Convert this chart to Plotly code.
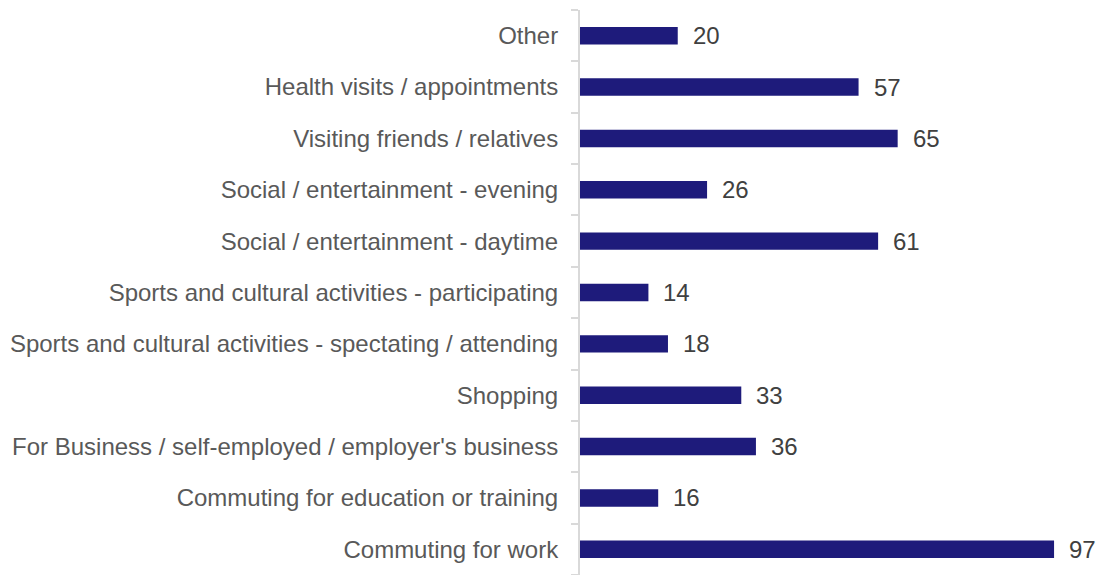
import plotly.graph_objects as go

# Trip purposes, listed bottom to top as drawn on the category axis
purposes = [
    "Commuting for work",
    "Commuting for education or training",
    "For Business / self-employed / employer's business",
    "Shopping",
    "Sports and cultural activities - spectating / attending",
    "Sports and cultural activities - participating",
    "Social / entertainment - daytime",
    "Social / entertainment - evening",
    "Visiting friends / relatives",
    "Health visits / appointments",
    "Other",
]
counts = [97, 16, 36, 33, 18, 14, 61, 26, 65, 57, 20]

BAR_COLOR = "#1e1b7b"
LABEL_COLOR = "#595959"
VALUE_COLOR = "#404040"
FONT = "Liberation Sans, Arial, sans-serif"

fig = go.Figure(
    go.Bar(
        x=counts,
        y=purposes,
        orientation="h",
        marker=dict(color=BAR_COLOR, line=dict(width=0)),
        hoverinfo="x+y",
    )
)

# value labels just past the end of each bar
for label, value in zip(purposes, counts):
    fig.add_annotation(
        x=value,
        y=label,
        text=str(value),
        showarrow=False,
        xanchor="left",
        yanchor="middle",
        xshift=13,
        font=dict(family=FONT, size=24, color=VALUE_COLOR),
    )

fig.update_layout(
    width=1100,
    height=575,
    margin=dict(l=580, r=0, t=10, b=0),
    paper_bgcolor="white",
    plot_bgcolor="white",
    bargap=0.66,
    showlegend=False,
    font=dict(family=FONT, size=24, color=LABEL_COLOR),
)

fig.update_xaxes(
    range=[0, 106.4],
    showgrid=False,
    zeroline=False,
    showticklabels=False,
    showline=False,
    ticks="",
)

fig.update_yaxes(
    type="category",
    categoryorder="array",
    categoryarray=purposes,
    range=[-0.5, len(purposes) - 0.5],
    showgrid=False,
    zeroline=False,
    showline=True,
    linecolor="#d9d9d9",
    linewidth=2,
    ticks="outside",
    tickson="boundaries",
    ticklen=7,
    tickwidth=2,
    tickcolor="#d9d9d9",
    ticklabelstandoff=15,
    tickfont=dict(family=FONT, size=24, color=LABEL_COLOR),
)

fig.write_html("out.html")
